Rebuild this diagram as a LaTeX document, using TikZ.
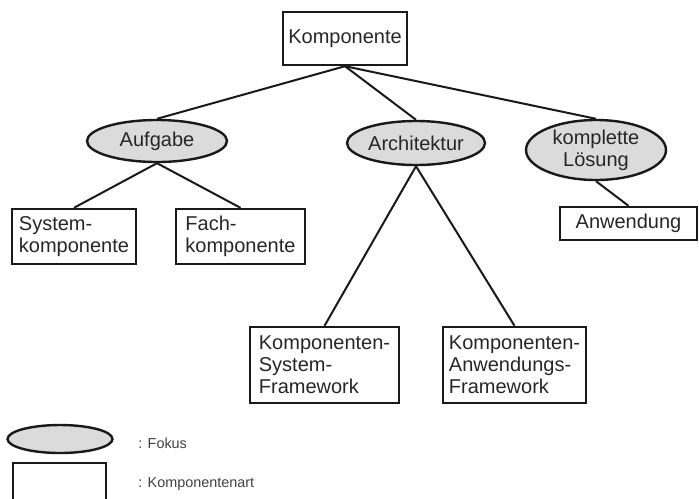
\documentclass[tikz,border=0pt]{standalone}
\usepackage{fontspec}
\setmainfont{Liberation Sans}
\usetikzlibrary{shapes.geometric}

\begin{document}
\begin{tikzpicture}[x=0.5pt,y=-0.5pt,
  art/.style={rectangle, draw=black!90, line width=1.2pt, inner sep=0pt,
    align=left, text=black!85, font=\fontsize{10}{11}\selectfont},
  fokus/.style={ellipse, draw=black!90, line width=1.2pt, fill=gray!28,
    inner sep=0pt, align=center, text=black!85, font=\fontsize{10}{11}\selectfont},
  legtext/.style={anchor=west, inner sep=0pt, text=black!75,
    font=\fontsize{7.2}{8}\selectfont}]
\useasboundingbox (0,0) rectangle (699,498);

% tree
\node[art, minimum width=62pt, minimum height=26.5pt] (komp) at (345,38.5) {Komponente};
\node[fokus, minimum width=70pt, minimum height=21pt] (aufg) at (157,141) {Aufgabe};
\node[fokus, minimum width=69pt, minimum height=22pt] (arch) at (416,143) {Architektur};
\node[fokus, minimum width=70pt, minimum height=30pt] (loes) at (596,150) {komplette\\Lösung};
\node[art, minimum width=62pt, minimum height=27.5pt] (sysk) at (74,236.5) {System-\\komponente};
\node[art, minimum width=64.5pt, minimum height=27.5pt] (fach) at (240.5,236.5) {Fach-\\komponente};
\node[art, minimum width=68.5pt, minimum height=16.5pt] (anw) at (628.5,223.5) {Anwendung};
\node[art, minimum width=74.5pt, minimum height=38pt] (ksf) at (324.5,365) {Komponenten-\\System-\\Framework};
\node[art, minimum width=71.5pt, minimum height=38pt] (kaf) at (514.5,365) {Komponenten-\\Anwendungs-\\Framework};

\path[draw=black!90, line width=1pt]
(komp.south) edge (aufg.north)
             edge (arch.north)
             edge (loes.north)
(aufg.south) edge (sysk.north)
             edge (fach.north)
(arch.south) edge (ksf.north)
             edge (kaf.north)
(loes.south) edge (anw.north);

% legend
\node[fokus, minimum width=52.5pt, minimum height=14pt] (legf) at (60,439) {};
\node[art, minimum width=46.5pt, minimum height=20pt] (lega) at (59.5,483) {};
\node[legtext] (legft) at (138,443) {: Fokus};
\node[legtext] (legat) at (138,484) {: Komponentenart};
\end{tikzpicture}
\end{document}
